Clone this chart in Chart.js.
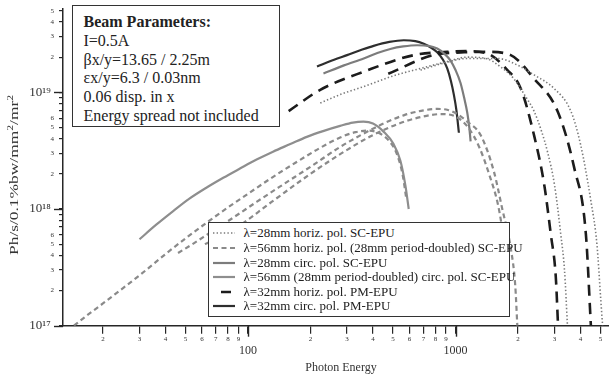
<!DOCTYPE html>
<html>
<head>
<meta charset="utf-8">
<script src="https://cdn.jsdelivr.net/npm/chart.js@4.4.1/dist/chart.umd.min.js"></script>
<style>
  body { margin: 0; background: #fff; }
  #wrap { position: relative; width: 609px; height: 377px; font-family: 'Liberation Serif', 'Times New Roman', serif; color: #222; }
  canvas { position: absolute; left: 0; top: 0; }
  .box { position: absolute; background: #fff; border: 1.5px solid #333; box-sizing: border-box; }
  #params { left: 72px; top: 5px; width: 208px; height: 122px; padding: 7px 0 0 10.5px; font-size: 16px; line-height: 18.8px; }
  #params div { white-space: nowrap; }
  #legend { left: 208px; top: 222px; width: 302px; height: 95px; padding: 3.2px 0 0 3.5px; font-size: 13px; }
  .row { height: 14.6px; white-space: nowrap; display: flex; align-items: center; }
  .row svg { flex: none; margin-right: 9px; }
  #ytitle { position: absolute; left: 13.5px; top: 175px; transform: translate(-50%, -50%) rotate(-90deg) scaleX(1.45); font-size: 12px; white-space: nowrap; color: #333; }
  #xtitle { position: absolute; left: 341px; top: 367px; transform: translate(-50%, -50%); font-size: 12px; white-space: nowrap; color: #333; }
</style>
</head>
<body>
<div id="wrap">
  <canvas id="myChart" width="609" height="377"></canvas>
  <div id="ytitle">Ph/s/0.1%bw/mm<sup style="font-size:8px">2</sup>/mr<sup style="font-size:8px">2</sup></div>
  <div id="xtitle">Photon Energy</div>
  <div class="box" id="params"></div>
  <div class="box" id="legend"></div>
</div>
<script>
// tick values and labels
const energyTicks = [20, 30, 40, 50, 60, 70, 80, 90, 100, 200, 300, 400, 500, 600, 700, 800, 900, 1000, 2000, 3000, 4000, 5000];
const energyTickLabels = ['2', '3', '4', '5', '6', '7', '8', '9', '100', '2', '3', '4', '5', '6', '7', '8', '9', '1000', '2', '3', '4', '5'];
const energyMajor = [100, 1000];

const brightTicks = [1e17, 2e17, 3e17, 4e17, 5e17, 6e17, 7e17, 8e17, 9e17,
  1e18, 2e18, 3e18, 4e18, 5e18, 6e18, 7e18, 8e18, 9e18,
  1e19, 2e19, 3e19, 4e19, 5e19];
const brightTickLabels = ['10\u00b9\u2077 ', '2', '3', '4', '5', '6', '', '', '',
  '10\u00b9\u2078 ', '2', '3', '4', '5', '6', '', '', '',
  '10\u00b9\u2079 ', '2', '3', '4', '5'];
const brightMajor = [1e17, 1e18, 1e19];

const boxLines = ['Beam Parameters:', 'I=0.5A', '\u03b2x/y=13.65 / 2.25m', '\u03b5x/y=6.3 / 0.03nm', '0.06 disp. in x', 'Energy spread not included'];

const seriesNames = [
  '\u03bb=28mm horiz. pol. SC-EPU',
  '\u03bb=56mm horiz. pol. (28mm period-doubled) SC-EPU',
  '\u03bb=28mm circ. pol. SC-EPU',
  '\u03bb=56mm (28mm period-doubled) circ. pol. SC-EPU',
  '\u03bb=32mm horiz. pol. PM-EPU',
  '\u03bb=32mm circ. pol. PM-EPU'
];

// [photon energy, brightness]
const sc28HorizA = [[223, 8.1e18], [280, 9.6e18], [361, 1.12e19], [500, 1.38e19], [678, 1.6e19], [900, 1.82e19], [1139, 2.0e19], [1400, 1.95e19], [1650, 1.65e19], [1907, 1.31e19], [2150, 9.5e18], [2388, 6.9e18], [2600, 4.6e18], [2773, 3.1e18], [3000, 1.6e18], [3213, 6.1e17], [3350, 3.0e17], [3462, 1.0e17]];
const sc28HorizB = [[678, 1.55e19], [900, 1.8e19], [1139, 1.95e19], [1590, 1.95e19], [2000, 1.7e19], [2388, 1.41e19], [2980, 1.08e19], [3593, 6.9e18], [4000, 3.6e18], [4490, 1.17e18], [4800, 5.0e17], [5012, 1.65e17], [5113, 1.0e17]];

const sc56HorizA = [[14.5, 1.0e17], [17, 1.25e17], [20, 1.55e17], [25, 2.1e17], [30, 2.7e17], [40, 4.1e17], [50, 5.6e17], [63, 7.6e17], [80, 1.03e18], [100, 1.35e18], [130, 1.85e18], [170, 2.5e18], [220, 3.3e18], [278, 4.1e18], [330, 4.55e18], [380, 4.7e18], [430, 4.45e18], [480, 3.8e18], [520, 3.0e18], [555, 2.0e18], [580, 1.2e18]];
const sc56HorizB = [[46, 4.2e17], [55, 5.1e17], [65, 6.2e17], [84.6, 8.4e17], [110, 1.15e18], [150, 1.65e18], [200, 2.3e18], [278, 3.4e18], [350, 4.3e18], [450, 5.4e18], [570, 6.4e18], [700, 7.0e18], [816, 7.2e18], [920, 7.05e18], [1020, 6.5e18], [1139, 5.6e18], [1321, 4.3e18], [1530, 2.1e18], [1680, 1.0e18], [1850, 4.5e17], [1940, 2.2e17], [1985, 1.0e17]];
const sc56HorizC = [[62, 5.0e17], [84.6, 6.6e17], [130, 1.15e18], [200, 2.0e18], [278, 2.95e18], [400, 4.3e18], [550, 5.5e18], [700, 6.2e18], [850, 6.5e18], [1000, 6.2e18], [1150, 5.0e18], [1300, 3.4e18], [1450, 2.0e18], [1600, 1.1e18], [1700, 6.0e17]];

const sc28Circ = [[231, 1.45e19], [290, 1.7e19], [361, 1.95e19], [420, 2.17e19], [485, 2.35e19], [560, 2.47e19], [653, 2.53e19], [740, 2.5e19], [816, 2.37e19], [880, 2.15e19], [946, 1.87e19], [1000, 1.55e19], [1057, 1.2e19], [1100, 9.0e18], [1139, 6.7e18], [1165, 5.0e18], [1182, 3.8e18]];
const sc56Circ = [[30, 5.5e17], [36, 7.3e17], [43.6, 9.6e17], [52, 1.22e18], [63, 1.52e18], [76, 1.85e18], [91.5, 2.22e18], [110, 2.65e18], [132, 3.1e18], [160, 3.6e18], [192, 4.15e18], [230, 4.65e18], [278, 5.15e18], [320, 5.5e18], [360, 5.6e18], [400, 5.4e18], [450, 4.6e18], [503, 3.6e18], [542, 2.6e18], [573, 1.6e18], [595, 1.0e18]];

const pm32HorizA = [[157, 6.9e18], [223, 1.05e19], [361, 1.5e19], [629, 2.08e19], [912, 2.22e19], [1139, 2.25e19], [1422, 2.15e19], [1778, 1.55e19], [2061, 1.08e19], [2388, 4.3e18], [2673, 1.63e18], [2877, 6.1e17], [3042, 2.6e17], [3119, 1.0e17]];
const pm32HorizB = [[474, 1.44e19], [783, 2.09e19], [1100, 2.2e19], [1422, 2.22e19], [1845, 2.08e19], [2388, 1.31e19], [3099, 6.9e18], [3730, 2.26e18], [4247, 6.1e17], [4490, 1.0e17]];
const pm32Circ = [[215, 1.66e19], [260, 1.9e19], [300, 2.08e19], [350, 2.3e19], [403, 2.5e19], [480, 2.7e19], [563, 2.79e19], [640, 2.74e19], [703, 2.6e19], [760, 2.42e19], [816, 2.2e19], [870, 1.9e19], [912, 1.6e19], [950, 1.25e19], [982, 9.5e18], [1010, 7.0e18], [1038, 4.5e18]];

const styles = [
  { color: '#7a7a7a', width: 1.6, dash: [1.4, 2.2], legendDash: '1.4 2.2' },
  { color: '#8a8a8a', width: 2.2, dash: [5, 3.5], legendDash: '5 3.5' },
  { color: '#7c7c7c', width: 2.2, dash: [], legendDash: '' },
  { color: '#8e8e8e', width: 2.2, dash: [], legendDash: '' },
  { color: '#1c1c1c', width: 2.6, dash: [11, 7], legendDash: '0 8 10 100' },
  { color: '#2e2e2e', width: 2.2, dash: [], legendDash: '' }
];

const curves = [
  [sc28HorizA, 0], [sc28HorizB, 0],
  [sc56HorizA, 1], [sc56HorizB, 1], [sc56HorizC, 1],
  [sc28Circ, 2], [sc56Circ, 3],
  [pm32HorizA, 4], [pm32HorizB, 4], [pm32Circ, 5]
];

const fontFamily = "'Liberation Serif', 'Times New Roman', serif";
const axisColor = '#262626';

document.getElementById('params').innerHTML = boxLines.map((t, i) =>
  '<div' + (i === 0 ? ' style="font-weight:bold"' : '') + '>' + t + '</div>').join('');

document.getElementById('legend').innerHTML = seriesNames.map((name, i) => {
  const s = styles[i];
  return '<div class="row"><svg width="22" height="8"><line x1="0" y1="4" x2="22" y2="4" stroke="' + s.color +
    '" stroke-width="' + s.width + '"' + (s.legendDash ? ' stroke-dasharray="' + s.legendDash + '"' : '') +
    '/></svg><span>' + name + '</span></div>';
}).join('');

// longer marks at 100, 1000 and the powers of ten
const majorTicks = {
  id: 'majorTicks',
  afterDraw(chart) {
    const { ctx } = chart;
    const x = chart.scales.x;
    const y = chart.scales.y;
    ctx.save();
    ctx.strokeStyle = axisColor;
    ctx.lineWidth = 1.4;
    energyMajor.forEach((v) => {
      const px = Math.round(x.getPixelForValue(v)) + 0.5;
      ctx.beginPath();
      ctx.moveTo(px, x.top);
      ctx.lineTo(px, x.top + 11);
      ctx.stroke();
    });
    brightMajor.forEach((v) => {
      const py = Math.round(y.getPixelForValue(v)) + 0.5;
      ctx.beginPath();
      ctx.moveTo(y.right, py);
      ctx.lineTo(y.right - 9, py);
      ctx.stroke();
    });
    ctx.restore();
  }
};

new Chart(document.getElementById('myChart'), {
  type: 'line',
  data: {
    datasets: curves.map(([pts, si]) => ({
      label: seriesNames[si],
      data: pts.map(([e, b]) => ({ x: e, y: b })),
      borderColor: styles[si].color,
      borderWidth: styles[si].width,
      borderDash: styles[si].dash,
      pointRadius: 0,
      fill: false,
      cubicInterpolationMode: 'monotone'
    }))
  },
  options: {
    responsive: false,
    animation: false,
    devicePixelRatio: 1,
    layout: { padding: { top: 7, right: 0, bottom: 0, left: 0 } },
    plugins: { legend: { display: false }, tooltip: { enabled: false } },
    scales: {
      x: {
        type: 'logarithmic',
        min: 12.84,
        max: 5489,
        afterBuildTicks: (s) => { s.ticks = energyTicks.map((v) => ({ value: v })); },
        afterFit: (s) => { s.height = 51.3; },
        border: { color: axisColor, width: 1.5 },
        grid: { drawOnChartArea: false, drawTicks: true, tickLength: 8, color: axisColor, lineWidth: 1.2 },
        ticks: {
          autoSkip: false,
          maxRotation: 0,
          padding: 1,
          color: '#333',
          callback: (v, i) => (energyMajor.includes(energyTicks[i]) ? ['', energyTickLabels[i]] : energyTickLabels[i]),
          font: (c) => (c.tick && energyMajor.includes(c.tick.value)
            ? { family: fontFamily, size: 12, lineHeight: 0.87 }
            : { family: fontFamily, size: 7 })
        }
      },
      y: {
        type: 'logarithmic',
        min: 1e17,
        max: 5.15e19,
        afterBuildTicks: (s) => { s.ticks = brightTicks.map((v) => ({ value: v })); },
        afterFit: (s) => { s.width = 63; },
        border: { color: axisColor, width: 1.5 },
        grid: { drawOnChartArea: false, drawTicks: true, tickLength: 4, color: axisColor, lineWidth: 1.2 },
        ticks: {
          autoSkip: false,
          padding: 5,
          color: '#333',
          callback: (v, i) => brightTickLabels[i],
          font: (c) => (c.tick && brightMajor.includes(c.tick.value)
            ? { family: fontFamily, size: 13 }
            : { family: fontFamily, size: 7 })
        }
      }
    }
  },
  plugins: [majorTicks]
});
</script>
</body>
</html>
